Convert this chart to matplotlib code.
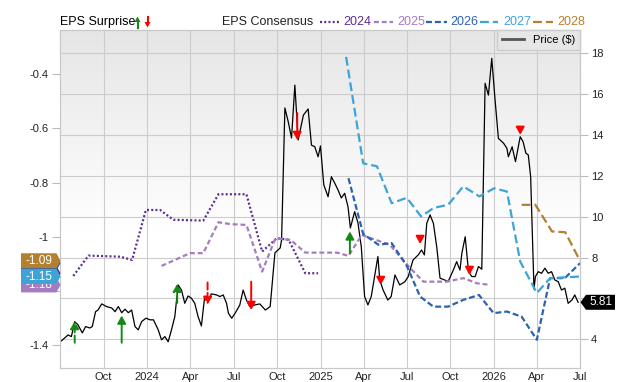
import numpy as np
import pandas as pd
import matplotlib
matplotlib.use('Agg')
import matplotlib.pyplot as plt
from matplotlib.patches import Polygon
from matplotlib.lines import Line2D
from matplotlib.transforms import blended_transform_factory

plt.rcParams['font.family'] = ['Liberation Sans', 'DejaVu Sans']

# ---- price ($), right axis
price_dates = [
    '2023-07-04', '2023-07-18', '2023-07-25', '2023-08-01', '2023-08-08', '2023-08-17', '2023-08-24',
    '2023-09-02', '2023-09-07', '2023-09-14', '2023-09-19', '2023-09-27', '2023-10-07', '2023-10-18',
    '2023-10-25', '2023-11-01', '2023-11-08', '2023-11-15', '2023-11-22', '2023-11-29', '2023-12-06',
    '2023-12-13', '2023-12-20', '2023-12-29', '2024-01-07', '2024-01-14', '2024-01-24', '2024-01-31',
    '2024-02-07', '2024-02-14', '2024-02-21', '2024-02-28', '2024-03-06', '2024-03-13', '2024-03-20',
    '2024-03-27', '2024-04-03', '2024-04-10', '2024-04-17', '2024-04-24', '2024-05-01', '2024-05-08',
    '2024-05-15', '2024-05-26', '2024-06-02', '2024-06-09', '2024-06-16', '2024-06-20', '2024-06-27',
    '2024-07-04', '2024-07-14', '2024-07-21', '2024-07-28', '2024-08-04', '2024-08-15', '2024-08-25',
    '2024-09-06', '2024-09-16', '2024-09-26', '2024-10-07', '2024-10-10', '2024-10-17', '2024-10-24',
    '2024-10-31', '2024-11-07', '2024-11-14', '2024-11-25', '2024-12-05', '2024-12-12', '2024-12-19',
    '2024-12-26', '2024-12-31', '2025-01-07', '2025-01-16', '2025-01-23', '2025-01-30', '2025-02-06',
    '2025-02-13', '2025-02-20', '2025-02-27', '2025-03-04', '2025-03-13', '2025-03-20', '2025-03-27',
    '2025-04-03', '2025-04-10', '2025-04-17', '2025-04-24', '2025-05-01', '2025-05-05', '2025-05-12',
    '2025-05-22', '2025-05-29', '2025-06-06', '2025-06-16', '2025-06-27', '2025-07-04', '2025-07-14',
    '2025-07-25', '2025-08-01', '2025-08-07', '2025-08-12', '2025-08-19', '2025-08-26', '2025-09-02',
    '2025-09-09', '2025-09-19', '2025-09-26', '2025-10-07', '2025-10-14', '2025-10-21', '2025-10-25',
    '2025-11-01', '2025-11-08', '2025-11-15', '2025-11-22', '2025-11-29', '2025-12-06', '2025-12-13',
    '2025-12-20', '2025-12-27', '2026-01-03', '2026-01-10', '2026-01-21', '2026-01-28', '2026-01-31',
    '2026-02-08', '2026-02-15', '2026-02-25', '2026-03-03', '2026-03-09', '2026-03-14', '2026-03-19',
    '2026-03-26', '2026-03-29', '2026-04-04', '2026-04-11', '2026-04-18', '2026-04-25', '2026-05-02',
    '2026-05-09', '2026-05-16', '2026-05-23', '2026-05-30', '2026-06-06', '2026-06-14', '2026-06-20',
    '2026-06-27']
price_vals = [
    3.92, 4.21, 4.13, 4.86, 4.70, 4.31, 4.62,
    4.55, 4.62, 5.35, 5.43, 5.73, 5.60, 5.53,
    5.35, 5.60, 5.30, 5.47, 5.30, 5.43, 4.62,
    4.46, 4.86, 5.03, 4.95, 4.95, 4.46, 3.97,
    4.13, 3.88, 4.46, 5.11, 6.66, 6.41, 5.76,
    6.12, 6.01, 5.76, 5.11, 4.65, 6.09, 5.92,
    6.22, 6.17, 6.09, 6.17, 5.76, 5.27, 5.03,
    5.27, 5.68, 6.41, 5.92, 5.60, 5.68, 5.73,
    5.43, 5.60, 8.23, 8.47, 8.86, 15.33, 14.66,
    13.86, 16.45, 13.76, 14.98, 15.28, 13.51, 13.43,
    12.94, 13.47, 11.56, 10.98, 11.96, 11.65, 11.31,
    10.92, 11.15, 10.49, 9.45, 10.25, 9.70, 8.53,
    6.09, 5.68, 6.09, 7.07, 8.05, 6.90, 6.41,
    5.92, 6.09, 7.15, 6.66, 6.82, 7.07, 7.88,
    8.13, 8.37, 8.13, 9.68, 10.09, 9.68, 8.53,
    6.99, 6.90, 6.82, 7.39, 7.80, 7.39, 8.21,
    9.02, 7.31, 7.07, 7.07, 7.56, 7.43, 16.54,
    15.96, 17.76, 15.72, 13.84, 13.60, 13.35, 12.94,
    13.43, 12.70, 13.92, 13.68, 13.11, 13.03, 11.96,
    6.46, 7.07, 7.31, 7.23, 7.48, 7.23, 7.31,
    6.90, 6.82, 6.41, 6.50, 5.76, 5.92, 6.17,
    5.81]

# ---- EPS consensus per fiscal year, left axis
c2024_dates = ['2023-07-29', '2023-08-30', '2023-11-05', '2023-11-30', '2023-12-29', '2024-01-28', '2024-02-25',
               '2024-04-28', '2024-05-30', '2024-07-28', '2024-08-30', '2024-09-30', '2024-10-25', '2024-11-29',
               '2024-12-26']
c2024_vals = [-1.144, -1.069, -1.073, -1.085, -0.901, -0.901, -0.937,
              -0.940, -0.843, -0.843, -1.054, -1.005, -1.011, -1.134,
              -1.134]

c2025_dates = ['2024-01-31', '2024-03-31', '2024-04-28', '2024-05-30', '2024-06-24', '2024-07-28', '2024-08-30',
               '2024-09-27', '2024-10-29', '2024-11-29', '2025-02-04', '2025-02-28', '2025-03-28', '2025-05-26',
               '2025-07-08', '2025-08-05', '2025-09-23', '2025-10-28', '2025-11-26', '2025-12-24']
c2025_vals = [-1.107, -1.060, -1.060, -0.946, -0.953, -0.956, -1.128,
              -1.005, -1.011, -1.058, -1.058, -1.070, -0.993, -1.029,
              -1.115, -1.165, -1.165, -1.152, -1.171, -1.177]

c2026_dates = ['2025-02-28', '2025-03-31', '2025-05-02', '2025-05-30', '2025-07-01', '2025-07-29', '2025-08-26',
               '2025-09-26', '2025-10-28', '2025-11-30', '2025-12-31', '2026-01-28', '2026-02-28', '2026-04-01',
               '2026-04-29', '2026-05-30', '2026-07-01']
c2026_vals = [-0.784, -0.989, -1.029, -1.023, -1.107, -1.220, -1.257,
              -1.257, -1.232, -1.214, -1.281, -1.275, -1.294, -1.379,
              -1.152, -1.152, -1.097]

c2027_dates = ['2025-02-23', '2025-03-31', '2025-04-29', '2025-05-30', '2025-07-01', '2025-07-31', '2025-08-27',
               '2025-09-26', '2025-10-28', '2025-12-01', '2026-01-01', '2026-01-28', '2026-02-25', '2026-04-01',
               '2026-04-29', '2026-07-01']
c2027_vals = [-0.337, -0.729, -0.740, -0.876, -0.856, -0.925, -0.893,
              -0.882, -0.814, -0.851, -0.821, -0.833, -1.091, -1.207,
              -1.152, -1.146]

c2028_dates = ['2026-02-28', '2026-03-29', '2026-05-03', '2026-05-31', '2026-07-01']
c2028_vals = [-0.882, -0.882, -0.980, -0.983, -1.088]

# ---- EPS surprise arrows (consensus -> actual)
surp_dates = ['2023-08-01', '2023-11-08', '2024-03-04', '2024-05-07', '2024-08-07', '2024-11-12',
              '2025-03-03', '2025-05-07', '2025-07-29', '2025-11-10', '2026-02-25']
surp_from = [-1.39, -1.39, -1.243, -1.168, -1.165, -0.544, -1.060, -1.151, -0.999, -1.114, -0.599]
surp_to = [-1.31, -1.29, -1.173, -1.250, -1.269, -0.643, -0.980, -1.177, -1.026, -1.140, -0.624]
surp_dashed = [True, False, True, True, False, False, False, False, False, False, False]

tick_dates = ['2023-10-01', '2024-01-01', '2024-04-01', '2024-07-01', '2024-10-01', '2025-01-01',
              '2025-04-01', '2025-07-01', '2025-10-01', '2026-01-01', '2026-04-01', '2026-07-01']
tick_labels = ['Oct', '2024', 'Apr', 'Jul', 'Oct', '2025', 'Apr', 'Jul', 'Oct', '2026', 'Apr', 'Jul']

# -1.2 and 6 sit under the value boxes in the reference
eps_ticks = [-1.4, -1.2, -1.0, -0.8, -0.6, -0.4]
eps_tick_labels = ['-1.4', '', '-1', '-0.8', '-0.6', '-0.4']
price_ticks = [4, 6, 8, 10, 12, 14, 16, 18]
price_tick_labels = ['4', '', '8', '10', '12', '14', '16', '18']

years = ['2024', '2025', '2026', '2027', '2028']
colors = {'2024': '#5c2d91', '2025': '#a47dc0', '2026': '#2a62b4', '2027': '#3ea3d6', '2028': '#b3802f'}
dashes = {'2024': (0, (0.9, 1.0)), '2025': (0, (2.2, 1.3)), '2026': (0, (2.7, 1.3)),
          '2027': (0, (4, 1.8)), '2028': (0, (4, 1.8))}
series = {'2024': (c2024_dates, c2024_vals), '2025': (c2025_dates, c2025_vals),
          '2026': (c2026_dates, c2026_vals), '2027': (c2027_dates, c2027_vals),
          '2028': (c2028_dates, c2028_vals)}
box_order = ['2024', '2026', '2025', '2027', '2028']   # back to front
box_text = ['2025', '2027', '2028']                    # the others are fully covered

W, H = 640, 382
fig = plt.figure(figsize=(W / 100, H / 100), dpi=100)
ax = fig.add_axes([60 / W, 14 / H, 520 / W, 338 / H])
ax2 = ax.twinx()

# background gradient
g = np.linspace(0, 1, 256)
shade = np.clip((g - 0.4) / 0.6, 0, 1)
img = 1 - shade[:, None] * (1 - np.array([0.9, 0.9, 0.9]))
img = np.repeat(img[:, None, :], 2, axis=1)
ax.imshow(img, extent=[0, 1, 0, 1], transform=ax.transAxes, aspect='auto', origin='lower', zorder=0)

# price
ax.plot(pd.to_datetime(price_dates), price_vals, color='black', lw=0.9, zorder=3)

ax.set_xlim(pd.Timestamp('2023-07-01'), pd.Timestamp('2026-07-01'))
ax.set_ylim(2.59, 19.15)
ax2.set_ylim(-1.483, -0.238)

ax.set_yticks(price_ticks)
ax.set_yticklabels(price_tick_labels)
ax.yaxis.tick_right()
ax.tick_params(axis='y', length=6, color='#bbbbbb', labelsize=8, labelcolor='#222222', pad=2)
ax.set_xticks(pd.to_datetime(tick_dates))
ax.set_xticklabels(tick_labels)
ax.tick_params(axis='x', length=0, labelsize=8, labelcolor='#222222', pad=3)
ax.grid(True, color='#cccccc', lw=0.8)
ax.set_axisbelow(True)

ax2.yaxis.tick_left()
ax2.set_yticks(eps_ticks)
ax2.set_yticklabels(eps_tick_labels)
ax2.tick_params(axis='y', length=6, color='#bbbbbb', labelsize=8, labelcolor='#222222', pad=2)
for a in (ax, ax2):
    for s in a.spines.values():
        s.set_color('#c8c8c8')

# consensus lines
for y in years:
    d, v = series[y]
    ax2.plot(pd.to_datetime(d), v, color=colors[y], lw=1.6, linestyle=dashes[y], zorder=4)

# surprise arrows
for d, a0, a1, dsh in zip(surp_dates, surp_from, surp_to, surp_dashed):
    c = '#138a13' if a1 > a0 else '#ff0000'
    ax2.annotate('', xy=(pd.Timestamp(d), a1), xytext=(pd.Timestamp(d), a0),
                 arrowprops=dict(arrowstyle='-|>,head_length=0.45,head_width=0.25', color=c, lw=1.4,
                                 linestyle='--' if dsh else '-', shrinkA=0, shrinkB=0, mutation_scale=10),
                 zorder=6)

# last-value boxes on the left
px_eps = (ax2.get_ylim()[1] - ax2.get_ylim()[0]) / 338
tr = ax2.get_yaxis_transform()
for i, y in enumerate(box_order):
    v = series[y][1][-1]
    h = 7.5 * px_eps
    x0, x1, xp = -39 / 520, -3.5 / 520, 0.5 / 520
    poly = Polygon([(x0, v + h), (x1, v + h), (xp, v), (x1, v - h), (x0, v - h)], closed=True,
                   facecolor=colors[y], edgecolor='none', transform=tr, clip_on=False, zorder=10 + 2 * i)
    ax2.add_patch(poly)
    if y in box_text:
        ax2.text(-21.5 / 520, v, f'{v:.2f}', transform=tr, color='white', fontsize=8.5,
                 ha='center', va='center', clip_on=False, zorder=11 + 2 * i)

# last price box on the right
px_pr = (ax.get_ylim()[1] - ax.get_ylim()[0]) / 338
trp = blended_transform_factory(ax2.transAxes, ax.transData)
last = price_vals[-1]
h = 7.5 * px_pr
xp, x1, x2 = 1 + 0.5 / 520, 1 + 6 / 520, 1 + 35 / 520
ax2.add_patch(Polygon([(xp, last), (x1, last + h), (x2, last + h), (x2, last - h), (x1, last - h)],
                      closed=True, facecolor='black', edgecolor='none', transform=trp,
                      clip_on=False, zorder=30))
ax2.text(1 + 20.5 / 520, last, f'{last:.2f}', transform=trp, color='white', fontsize=8.5,
         ha='center', va='center', clip_on=False, zorder=31)

# price legend
leg = ax2.legend([Line2D([0], [0], color='#555555', lw=2)], ['Price ($)'], loc='upper right',
                 fontsize=8, frameon=True, fancybox=False, borderaxespad=0, handlelength=2,
                 borderpad=0.45)
leg.get_frame().set_facecolor('#e6e6e6')
leg.get_frame().set_edgecolor('#cccccc')
leg.get_frame().set_alpha(1)

# header legend
def fx(p):
    return p / W

def fy(p):
    return 1 - p / H

yc = 22
fig.text(fx(60), fy(yc), 'EPS Surprise', fontsize=9, color='black', va='center', ha='left')
green, red = '#138a13', '#ff0000'
fig.add_artist(Line2D([fx(137.5)] * 2, [fy(27.5), fy(21.5)], color=green, lw=1.5, transform=fig.transFigure))
fig.add_artist(Polygon([(fx(134.5), fy(22)), (fx(140.5), fy(22)), (fx(137.5), fy(16.5))], closed=True,
                       facecolor=green, edgecolor='none', transform=fig.transFigure))
fig.add_artist(Line2D([fx(147.5)] * 2, [fy(16.5), fy(22.5)], color=red, lw=1.5, transform=fig.transFigure))
fig.add_artist(Polygon([(fx(144.5), fy(22)), (fx(150.5), fy(22)), (fx(147.5), fy(27.5))], closed=True,
                       facecolor=red, edgecolor='none', transform=fig.transFigure))
fig.text(fx(222), fy(yc), 'EPS Consensus', fontsize=9, color='#222222', va='center', ha='left')
leg_x = {'2024': (320, 339, 343), '2025': (374, 393, 397), '2026': (426, 447, 450),
         '2027': (480, 498, 503), '2028': (533, 553, 557)}
for y in years:
    a, b, t = leg_x[y]
    fig.add_artist(Line2D([fx(a), fx(b)], [fy(yc), fy(yc)], color=colors[y], lw=1.6,
                          linestyle=dashes[y], transform=fig.transFigure))
    fig.text(fx(t), fy(yc), y, fontsize=9, color=colors[y], va='center', ha='left')

fig.savefig('out.png', dpi=100)
